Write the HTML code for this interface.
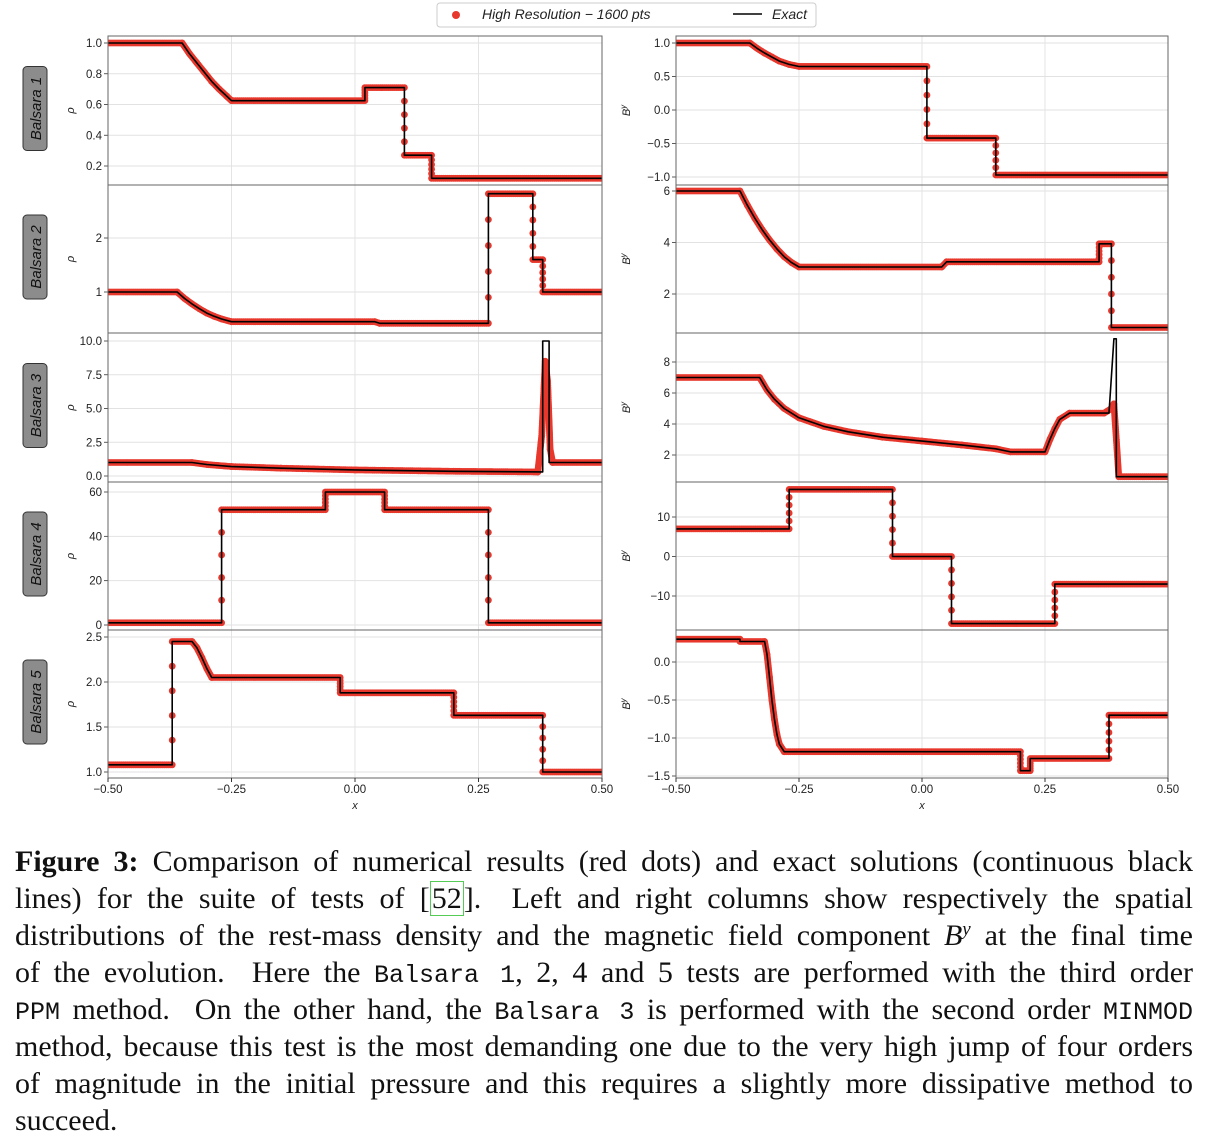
<!DOCTYPE html>
<html><head><meta charset="utf-8">
<style>
body{margin:0;width:1210px;height:1148px;background:#fff;overflow:hidden;font-family:"Liberation Sans",sans-serif}
#cap{position:absolute;left:15px;top:843px;width:1178px;font-family:"Liberation Serif",serif;font-size:30px;color:#111}
.ln{height:37px;line-height:37px;overflow:visible;text-align:justify;text-align-last:justify;white-space:nowrap}
.ln.last{text-align-last:left}
.tt{font-family:"Liberation Mono",monospace;font-size:25px}
.ref{border:1.5px solid #5c5;padding:0 1px;line-height:1}
.sup{position:relative;top:-10px;font-size:19px;line-height:1}
</style></head><body>
<svg id="fig" width="1210" height="830" style="position:absolute;left:0;top:0" font-family="Liberation Sans, sans-serif"></svg>
<div id="cap">
<div class="ln"><b>Figure 3:</b> Comparison of numerical results (red dots) and exact solutions (continuous black</div>
<div class="ln">lines) for the suite of tests of [<span class="ref">52</span>]. &nbsp;Left and right columns show respectively the spatial</div>
<div class="ln">distributions of the rest-mass density and the magnetic field component <i>B<span class="sup">y</span></i> at the final time</div>
<div class="ln">of the evolution. &nbsp;Here the <span class="tt">Balsara 1</span>, 2, 4 and 5 tests are performed with the third order</div>
<div class="ln"><span class="tt">PPM</span> method. &nbsp;On the other hand, the <span class="tt">Balsara 3</span> is performed with the second order <span class="tt">MINMOD</span></div>
<div class="ln">method, because this test is the most demanding one due to the very high jump of four orders</div>
<div class="ln">of magnitude in the initial pressure and this requires a slightly more dissipative method to</div>
<div class="ln last">succeed.</div>
</div>
<script>
// x ticks
const xTicks=[-0.5,-0.25,0,0.25,0.5];
const xTickLabels=["−0.50","−0.25","0.00","0.25","0.50"];
// panel 1 rho
const l1x=[-0.5,-0.35,-0.335,-0.32,-0.305,-0.29,-0.275,-0.26,-0.25,0.02,0.02,0.1,0.1,0.155,0.155,0.5];
const l1y=[1,1,0.93,0.87,0.81,0.75,0.7,0.655,0.625,0.625,0.71,0.71,0.27,0.27,0.12,0.12];
const l1ticks=[0.2,0.4,0.6,0.8,1.0];
// panel 2 rho
const l2x=[-0.5,-0.36,-0.345,-0.33,-0.315,-0.3,-0.285,-0.27,-0.25,0.04,0.05,0.27,0.27,0.36,0.36,0.38,0.38,0.5];
const l2y=[1,1,0.88,0.78,0.69,0.61,0.55,0.5,0.45,0.45,0.42,0.42,2.82,2.82,1.6,1.6,1,1];
const l2ticks=[1,2];
// panel 3 rho
const l3x=[-0.5,-0.33,-0.3,-0.25,-0.15,0,0.2,0.38,0.38,0.393,0.393,0.5];
const l3y=[1,1,0.85,0.7,0.58,0.45,0.35,0.3,10,10,1,1];
const l3dx=[-0.5,-0.33,-0.3,-0.25,-0.15,0,0.2,0.37,0.378,0.385,0.39,0.395,0.4,0.5];
const l3dy=[1,1,0.85,0.7,0.58,0.45,0.35,0.3,3,8.5,7,2,1,1];
const l3ticks=[0,2.5,5,7.5,10];
// panel 4 rho
const l4x=[-0.5,-0.27,-0.27,-0.06,-0.06,0.06,0.06,0.27,0.27,0.5];
const l4y=[1,1,52,52,60,60,52,52,1,1];
const l4ticks=[0,20,40,60];
// panel 5 rho
const l5x=[-0.5,-0.37,-0.37,-0.33,-0.32,-0.31,-0.3,-0.29,-0.03,-0.03,0.2,0.2,0.38,0.38,0.5];
const l5y=[1.08,1.08,2.45,2.45,2.38,2.27,2.15,2.05,2.05,1.88,1.88,1.63,1.63,1.0,1.0];
const l5ticks=[1.0,1.5,2.0,2.5];
// right panels By
const r1x=[-0.5,-0.35,-0.335,-0.32,-0.305,-0.29,-0.27,-0.25,0.01,0.01,0.15,0.15,0.5];
const r1y=[1,1,0.92,0.85,0.79,0.73,0.68,0.65,0.65,-0.42,-0.42,-0.97,-0.97];
const r1ticks=[-1,-0.5,0,0.5,1];
const r2x=[-0.5,-0.37,-0.355,-0.34,-0.325,-0.31,-0.295,-0.28,-0.265,-0.25,0.04,0.05,0.36,0.36,0.385,0.385,0.5];
const r2y=[6,6,5.45,4.95,4.5,4.1,3.75,3.45,3.22,3.05,3.05,3.25,3.25,3.95,3.95,0.7,0.7];
const r2ticks=[2,4,6];
const r3x=[-0.5,-0.33,-0.315,-0.3,-0.28,-0.25,-0.2,-0.15,-0.08,0,0.08,0.15,0.18,0.25,0.26,0.27,0.28,0.3,0.38,0.39,0.395,0.395,0.5];
const r3y=[7,7,6.2,5.6,5.0,4.4,3.85,3.5,3.15,2.9,2.65,2.4,2.2,2.2,3.0,3.7,4.3,4.7,4.7,9.5,9.5,0.6,0.6];
const r3dx=[-0.5,-0.33,-0.315,-0.3,-0.28,-0.25,-0.2,-0.15,-0.08,0,0.08,0.15,0.18,0.25,0.26,0.27,0.28,0.3,0.37,0.385,0.39,0.395,0.4,0.5];
const r3dy=[7,7,6.2,5.6,5.0,4.4,3.85,3.5,3.15,2.9,2.65,2.4,2.2,2.2,3.0,3.7,4.3,4.7,4.7,5,5.3,3,0.6,0.6];
const r3ticks=[2,4,6,8];
const r4x=[-0.5,-0.27,-0.27,-0.06,-0.06,0.06,0.06,0.27,0.27,0.5];
const r4y=[7,7,17,17,0,0,-17,-17,-7,-7];
const r4ticks=[-10,0,10];
const r5x=[-0.5,-0.37,-0.37,-0.32,-0.315,-0.31,-0.305,-0.3,-0.295,-0.29,-0.28,0.2,0.2,0.22,0.22,0.38,0.38,0.5];
const r5y=[0.3,0.3,0.27,0.27,0.1,-0.2,-0.5,-0.75,-0.95,-1.08,-1.18,-1.18,-1.43,-1.43,-1.27,-1.27,-0.7,-0.7];
const r5ticks=[-1.5,-1.0,-0.5,0.0];

const NS="http://www.w3.org/2000/svg";
const svg=document.getElementById('fig');
function el(t,a,p){const e=document.createElementNS(NS,t);for(const k in a)e.setAttribute(k,a[k]);(p||svg).appendChild(e);return e;}
const rows=[[36,185],[185,333],[333,482],[482,630],[630,778]];
const cols=[[108,602],[676,1168]];
const panels=[
 {c:0,r:0,x:l1x,y:l1y,t:l1ticks,v0:1.0,p0:43,v1:0.2,p1:166,fmt:v=>v.toFixed(1),name:'balsara1-density'},
 {c:0,r:1,x:l2x,y:l2y,t:l2ticks,v0:2,p0:238,v1:1,p1:292,fmt:v=>String(v),name:'balsara2-density'},
 {c:0,r:2,x:l3x,y:l3y,dx:l3dx,dy:l3dy,t:l3ticks,v0:10,p0:341,v1:0,p1:476,fmt:v=>v.toFixed(1),name:'balsara3-density'},
 {c:0,r:3,x:l4x,y:l4y,t:l4ticks,v0:60,p0:492,v1:0,p1:625,fmt:v=>String(v),name:'balsara4-density'},
 {c:0,r:4,x:l5x,y:l5y,t:l5ticks,v0:2.5,p0:637,v1:1.0,p1:772,fmt:v=>v.toFixed(1),name:'balsara5-density'},
 {c:1,r:0,x:r1x,y:r1y,t:r1ticks,v0:1,p0:43,v1:-1,p1:177,fmt:v=>(v<0?'−':'')+Math.abs(v).toFixed(1),name:'balsara1-by'},
 {c:1,r:1,x:r2x,y:r2y,t:r2ticks,v0:6,p0:191,v1:2,p1:294,fmt:v=>String(v),name:'balsara2-by'},
 {c:1,r:2,x:r3x,y:r3y,dx:r3dx,dy:r3dy,t:r3ticks,v0:8,p0:362,v1:2,p1:455,fmt:v=>String(v),name:'balsara3-by'},
 {c:1,r:3,x:r4x,y:r4y,t:r4ticks,v0:10,p0:517,v1:-10,p1:596,fmt:v=>(v<0?'−':'')+Math.abs(v),name:'balsara4-by'},
 {c:1,r:4,x:r5x,y:r5y,t:r5ticks,v0:0,p0:662,v1:-1.5,p1:776,fmt:v=>(v<0?'−':'')+Math.abs(v).toFixed(1),name:'balsara5-by'}
];
const defs=el('defs',{});
panels.forEach((P,i)=>{
 const [L,R]=cols[P.c],[T,B]=rows[P.r];
 const X=v=>L+(v+0.5)*(R-L);
 const Y=v=>P.p0+(v-P.v0)*(P.p1-P.p0)/(P.v1-P.v0);
 const g=el('g',{});
 
 
 const cp=el('clipPath',{id:'c'+i},defs);el('rect',{x:L,y:T,width:R-L,height:B-T},cp);
 xTicks.forEach(v=>el('line',{x1:X(v),x2:X(v),y1:T,y2:B,stroke:'#ddd','stroke-width':0.8},g));
 P.t.forEach(v=>{
  el('line',{x1:L,x2:R,y1:Y(v),y2:Y(v),stroke:'#e2e2e2','stroke-width':1},g);
  el('line',{x1:L-4,x2:L,y1:Y(v),y2:Y(v),stroke:'#333','stroke-width':0.8},g);
  const tx=el('text',{x:L-6,y:Y(v)+4,'text-anchor':'end','font-size':11.5,fill:'#222'},g);tx.textContent=P.fmt(v);
 });
 const dg=el('g',{'clip-path':'url(#c'+i+')'},g);
 
 
 const dx=P.dx||P.x,dy=P.dy||P.y;
 for(let k=0;k<dx.length-1;k++){
  const ax=X(dx[k]),ay=Y(dy[k]),bx=X(dx[k+1]),by=Y(dy[k+1]);
  if(dx[k]===dx[k+1]){
   for(let f=0.2;f<0.85;f+=0.2){el('circle',{cx:ax,cy:ay+(by-ay)*f,r:3.4,fill:'#e8382d'},dg);}
   continue;
  }
  const len=Math.hypot(bx-ax,by-ay),n=Math.max(1,Math.ceil(len/2));
  for(let s=0;s<=n;s++){const f=s/n;el('circle',{cx:ax+(bx-ax)*f,cy:ay+(by-ay)*f,r:3.4,fill:'#e8382d'},dg);}
 }
 const pts=P.x.map((xv,k)=>X(xv).toFixed(1)+','+Y(P.y[k]).toFixed(1)).join(' ');
 const pl=el('polyline',{points:pts,fill:'none',stroke:'#000','stroke-width':1.6,'stroke-linejoin':'round','clip-path':'url(#c'+i+')'},g);
 
 
 el('rect',{x:L,y:T,width:R-L,height:B-T,fill:'none',stroke:'#666','stroke-width':1},g);
 const yl=el('text',{transform:`translate(${P.c?630:74},${(T+B)/2}) rotate(-90)`,'text-anchor':'middle','font-size':11,'font-style':'italic',fill:'#222'},g);
 yl.textContent=P.c?'B':'ρ';
 if(P.c){const s=el('tspan',{dy:-4,'font-size':8},yl);s.textContent='y';}
 if(P.c===0){
  const bg=el('g',{},g);
  
  
  const cy=(T+B)/2-2;
  el('rect',{x:23,y:cy-42,width:24,height:84,rx:4,fill:'#8c8c8c',stroke:'#333','stroke-width':1},bg);
  const bt=el('text',{transform:`translate(41,${cy}) rotate(-90)`,'text-anchor':'middle','font-size':15,'font-style':'italic',fill:'#111'},bg);bt.textContent='Balsara '+(P.r+1);
 }
 if(P.r===4){
  xTicks.forEach((v,k)=>{el('line',{x1:X(v),x2:X(v),y1:B,y2:B+4,stroke:'#333'},g);const t=el('text',{x:X(v),y:B+15,'text-anchor':'middle','font-size':11.5,fill:'#222'},g);t.textContent=xTickLabels[k];});
  const xl=el('text',{x:(L+R)/2,y:B+31,'text-anchor':'middle','font-size':11,'font-style':'italic',fill:'#222'},g);xl.textContent='x';
 }
});
// legend
const lg=el('g',{});


el('rect',{x:437,y:3,width:379,height:24,rx:3,fill:'#fff',stroke:'#ccc'},lg);
el('circle',{cx:456,cy:15,r:4,fill:'#e8382d'},lg);
const t1=el('text',{x:482,y:19,'font-size':14,'font-style':'italic',fill:'#222'},lg);t1.textContent='High Resolution − 1600 pts';
el('line',{x1:733,x2:762,y1:14,y2:14,stroke:'#000','stroke-width':1.6},lg);
const t2=el('text',{x:772,y:19,'font-size':14,'font-style':'italic',fill:'#222'},lg);t2.textContent='Exact';
</script>
</body></html>
